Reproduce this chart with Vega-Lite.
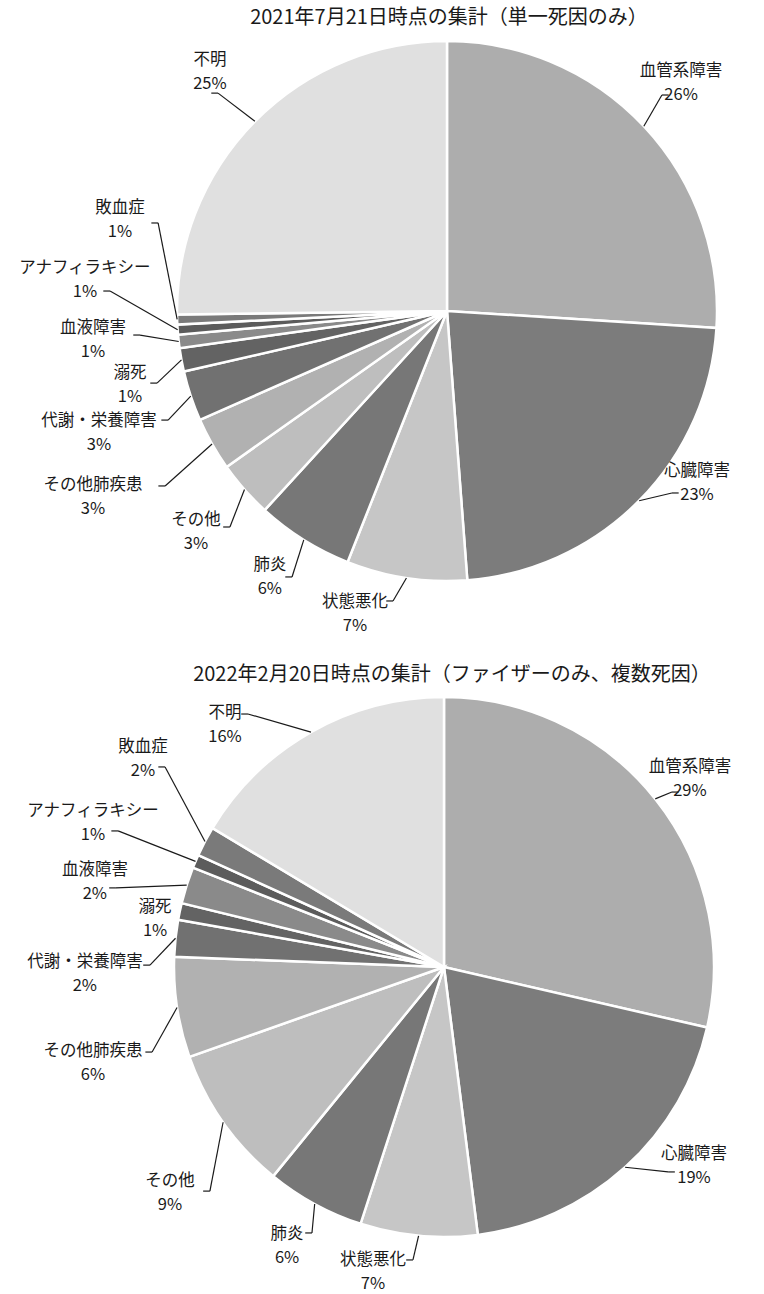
{
  "$schema": "https://vega.github.io/schema/vega-lite/v6.json",
  "background": "white",
  "padding": 0,
  "spacing": 0,
  "config": {
    "view": {"stroke": null},
    "font": "Noto Sans CJK JP",
    "title": {"font": "Noto Sans CJK JP", "fontSize": 20, "fontWeight": "normal", "color": "#1a1a1a"}
  },
  "datasets": {
    "slices": [
      {"chart": "2021-07-21", "order": 1, "cause": "血管系障害", "pct": 26.0, "lx": 0.867, "ly": 0.844, "kx": 0.796, "ky": 0.800},
      {"chart": "2021-07-21", "order": 2, "cause": "心臓障害", "pct": 22.8, "lx": 0.926, "ly": -0.637, "kx": 0.833, "ky": -0.674},
      {"chart": "2021-07-21", "order": 3, "cause": "状態悪化", "pct": 7.2, "lx": -0.341, "ly": -1.122, "kx": -0.200, "ky": -1.074},
      {"chart": "2021-07-21", "order": 4, "cause": "肺炎", "pct": 5.8, "lx": -0.656, "ly": -0.985, "kx": -0.574, "ky": -0.985},
      {"chart": "2021-07-21", "order": 5, "cause": "その他", "pct": 3.4, "lx": -0.930, "ly": -0.819, "kx": -0.804, "ky": -0.800},
      {"chart": "2021-07-21", "order": 6, "cause": "その他肺疾患", "pct": 3.2, "lx": -1.311, "ly": -0.689, "kx": -1.044, "ky": -0.648},
      {"chart": "2021-07-21", "order": 7, "cause": "代謝・栄養障害", "pct": 3.0, "lx": -1.289, "ly": -0.452, "kx": -1.033, "ky": -0.404},
      {"chart": "2021-07-21", "order": 8, "cause": "溺死", "pct": 1.4, "lx": -1.174, "ly": -0.274, "kx": -1.074, "ky": -0.267},
      {"chart": "2021-07-21", "order": 9, "cause": "血液障害", "pct": 0.8, "lx": -1.311, "ly": -0.107, "kx": -1.137, "ky": -0.089},
      {"chart": "2021-07-21", "order": 10, "cause": "アナフィラキシー", "pct": 0.6, "lx": -1.341, "ly": 0.115, "kx": -1.248, "ky": 0.074},
      {"chart": "2021-07-21", "order": 11, "cause": "敗血症", "pct": 0.6, "lx": -1.211, "ly": 0.337, "kx": -1.070, "ky": 0.326},
      {"chart": "2021-07-21", "order": 12, "cause": "不明", "pct": 25.2, "lx": -0.878, "ly": 0.885, "kx": -0.848, "ky": 0.807},
      {"chart": "2022-02-20", "order": 1, "cause": "血管系障害", "pct": 28.6, "lx": 0.911, "ly": 0.696, "kx": 0.844, "ky": 0.648},
      {"chart": "2022-02-20", "order": 2, "cause": "心臓障害", "pct": 19.4, "lx": 0.926, "ly": -0.737, "kx": 0.830, "ky": -0.759},
      {"chart": "2022-02-20", "order": 3, "cause": "状態悪化", "pct": 7.0, "lx": -0.263, "ly": -1.130, "kx": -0.115, "ky": -1.085},
      {"chart": "2022-02-20", "order": 4, "cause": "肺炎", "pct": 5.9, "lx": -0.581, "ly": -1.033, "kx": -0.489, "ky": -0.985},
      {"chart": "2022-02-20", "order": 5, "cause": "その他", "pct": 8.7, "lx": -1.015, "ly": -0.837, "kx": -0.867, "ky": -0.830},
      {"chart": "2022-02-20", "order": 6, "cause": "その他肺疾患", "pct": 6.0, "lx": -1.300, "ly": -0.356, "kx": -1.081, "ky": -0.315},
      {"chart": "2022-02-20", "order": 7, "cause": "代謝・栄養障害", "pct": 2.2, "lx": -1.330, "ly": -0.026, "kx": -1.089, "ky": 0.007},
      {"chart": "2022-02-20", "order": 8, "cause": "溺死", "pct": 1.0, "lx": -1.070, "ly": 0.178, "kx": null, "ky": null},
      {"chart": "2022-02-20", "order": 9, "cause": "血液障害", "pct": 2.2, "lx": -1.293, "ly": 0.315, "kx": -1.215, "ky": 0.293},
      {"chart": "2022-02-20", "order": 10, "cause": "アナフィラキシー", "pct": 0.8, "lx": -1.300, "ly": 0.533, "kx": -1.207, "ky": 0.504},
      {"chart": "2022-02-20", "order": 11, "cause": "敗血症", "pct": 1.8, "lx": -1.115, "ly": 0.770, "kx": -1.033, "ky": 0.741},
      {"chart": "2022-02-20", "order": 12, "cause": "不明", "pct": 16.4, "lx": -0.811, "ly": 0.896, "kx": -0.726, "ky": 0.937}
    ]
  },
  "vconcat": [
    {
      "width": 764,
      "height": 656,
      "title": {"text": "2021年7月21日時点の集計（単一死因のみ）", "offset": -28, "dx": 67},
      "data": {"name": "slices"},
      "transform": [
        {"filter": "datum.chart == '2021-07-21'"},
        {"stack": "pct", "groupby": ["chart"], "sort": [{"field": "order", "order": "ascending"}], "as": ["s0", "s1"]},
        {"calculate": "PI * (datum.s0 + datum.s1) / 100", "as": "mid"},
        {"calculate": "sin(datum.mid)", "as": "sx"},
        {"calculate": "cos(datum.mid)", "as": "sy"},
        {"calculate": "datum.kx + (datum.lx < datum.kx ? -0.025 : 0.025)", "as": "hx"},
        {"calculate": "format(datum.pct, '.0f') + '%'", "as": "pct_label"}
      ],
      "layer": [
        {
          "mark": {"type": "arc", "outerRadius": 270, "stroke": "white", "strokeWidth": 2.5},
          "encoding": {
            "theta": {"field": "s0", "type": "quantitative", "scale": {"domain": [0, 100]}},
            "theta2": {"field": "s1"},
            "color": {
              "field": "cause", "type": "nominal", "legend": null,
              "scale": {
                "domain": ["血管系障害", "心臓障害", "状態悪化", "肺炎", "その他", "その他肺疾患", "代謝・栄養障害", "溺死", "血液障害", "アナフィラキシー", "敗血症", "不明"],
                "range": ["#adadad", "#7c7c7c", "#c6c6c6", "#777777", "#bebebe", "#b1b1b1", "#717171", "#636363", "#8a8a8a", "#5c5c5c", "#7a7a7a", "#e0e0e0"]
              }
            },
            "x": {"datum": 0, "type": "quantitative", "scale": {"domain": [-1.6556, 1.1741], "nice": false, "zero": false}, "axis": null},
            "y": {"datum": 0, "type": "quantitative", "scale": {"domain": [-1.2778, 1.1519], "nice": false, "zero": false}, "axis": null}
          }
        },
        {
          "transform": [{"filter": "isValid(datum.kx)"}],
          "mark": {"type": "rule", "stroke": "#1a1a1a", "strokeWidth": 1.2},
          "encoding": {
            "x": {"field": "sx", "type": "quantitative", "scale": {"domain": [-1.6556, 1.1741], "nice": false, "zero": false}, "axis": null},
            "y": {"field": "sy", "type": "quantitative", "scale": {"domain": [-1.2778, 1.1519], "nice": false, "zero": false}, "axis": null},
            "x2": {"field": "kx"},
            "y2": {"field": "ky"}
          }
        },
        {
          "transform": [{"filter": "isValid(datum.kx)"}],
          "mark": {"type": "rule", "stroke": "#1a1a1a", "strokeWidth": 1.2},
          "encoding": {
            "x": {"field": "kx", "type": "quantitative", "scale": {"domain": [-1.6556, 1.1741], "nice": false, "zero": false}, "axis": null},
            "y": {"field": "ky", "type": "quantitative", "scale": {"domain": [-1.2778, 1.1519], "nice": false, "zero": false}, "axis": null},
            "x2": {"field": "hx"},
            "y2": {"field": "ky"}
          }
        },
        {
          "mark": {"type": "text", "align": "center", "baseline": "middle", "dy": -12, "fontSize": 16.5, "color": "#1a1a1a", "font": "Noto Sans CJK JP"},
          "encoding": {
            "x": {"field": "lx", "type": "quantitative", "scale": {"domain": [-1.6556, 1.1741], "nice": false, "zero": false}, "axis": null},
            "y": {"field": "ly", "type": "quantitative", "scale": {"domain": [-1.2778, 1.1519], "nice": false, "zero": false}, "axis": null},
            "text": {"field": "cause", "type": "nominal"}
          }
        },
        {
          "mark": {"type": "text", "align": "center", "baseline": "middle", "dy": 12, "fontSize": 16.5, "color": "#1a1a1a", "font": "Noto Sans CJK JP"},
          "encoding": {
            "x": {"field": "lx", "type": "quantitative", "scale": {"domain": [-1.6556, 1.1741], "nice": false, "zero": false}, "axis": null},
            "y": {"field": "ly", "type": "quantitative", "scale": {"domain": [-1.2778, 1.1519], "nice": false, "zero": false}, "axis": null},
            "text": {"field": "pct_label", "type": "nominal"}
          }
        }
      ]
    },
    {
      "width": 764,
      "height": 638,
      "title": {"text": "2022年2月20日時点の集計（ファイザーのみ、複数死因）", "offset": -29, "dx": 70},
      "data": {"name": "slices"},
      "transform": [
        {"filter": "datum.chart == '2022-02-20'"},
        {"stack": "pct", "groupby": ["chart"], "sort": [{"field": "order", "order": "ascending"}], "as": ["s0", "s1"]},
        {"calculate": "PI * (datum.s0 + datum.s1) / 100", "as": "mid"},
        {"calculate": "sin(datum.mid)", "as": "sx"},
        {"calculate": "cos(datum.mid)", "as": "sy"},
        {"calculate": "datum.kx + (datum.lx < datum.kx ? -0.025 : 0.025)", "as": "hx"},
        {"calculate": "format(datum.pct, '.0f') + '%'", "as": "pct_label"}
      ],
      "layer": [
        {
          "mark": {"type": "arc", "outerRadius": 270, "stroke": "white", "strokeWidth": 2.5},
          "encoding": {
            "theta": {"field": "s0", "type": "quantitative", "scale": {"domain": [0, 100]}},
            "theta2": {"field": "s1"},
            "color": {
              "field": "cause", "type": "nominal", "legend": null,
              "scale": {
                "domain": ["血管系障害", "心臓障害", "状態悪化", "肺炎", "その他", "その他肺疾患", "代謝・栄養障害", "溺死", "血液障害", "アナフィラキシー", "敗血症", "不明"],
                "range": ["#a9a9a9", "#7a7a7a", "#c2c2c2", "#777777", "#bababa", "#a6a6a6", "#6a6a6a", "#626262", "#878787", "#585858", "#777777", "#dbdbdb"]
              }
            },
            "x": {"datum": 0, "type": "quantitative", "scale": {"domain": [-1.6444, 1.1852], "nice": false, "zero": false}, "axis": null},
            "y": {"datum": 0, "type": "quantitative", "scale": {"domain": [-1.2111, 1.1519], "nice": false, "zero": false}, "axis": null}
          }
        },
        {
          "transform": [{"filter": "isValid(datum.kx)"}],
          "mark": {"type": "rule", "stroke": "#1a1a1a", "strokeWidth": 1.2},
          "encoding": {
            "x": {"field": "sx", "type": "quantitative", "scale": {"domain": [-1.6444, 1.1852], "nice": false, "zero": false}, "axis": null},
            "y": {"field": "sy", "type": "quantitative", "scale": {"domain": [-1.2111, 1.1519], "nice": false, "zero": false}, "axis": null},
            "x2": {"field": "kx"},
            "y2": {"field": "ky"}
          }
        },
        {
          "transform": [{"filter": "isValid(datum.kx)"}],
          "mark": {"type": "rule", "stroke": "#1a1a1a", "strokeWidth": 1.2},
          "encoding": {
            "x": {"field": "kx", "type": "quantitative", "scale": {"domain": [-1.6444, 1.1852], "nice": false, "zero": false}, "axis": null},
            "y": {"field": "ky", "type": "quantitative", "scale": {"domain": [-1.2111, 1.1519], "nice": false, "zero": false}, "axis": null},
            "x2": {"field": "hx"},
            "y2": {"field": "ky"}
          }
        },
        {
          "mark": {"type": "text", "align": "center", "baseline": "middle", "dy": -12, "fontSize": 16.5, "color": "#1a1a1a", "font": "Noto Sans CJK JP"},
          "encoding": {
            "x": {"field": "lx", "type": "quantitative", "scale": {"domain": [-1.6444, 1.1852], "nice": false, "zero": false}, "axis": null},
            "y": {"field": "ly", "type": "quantitative", "scale": {"domain": [-1.2111, 1.1519], "nice": false, "zero": false}, "axis": null},
            "text": {"field": "cause", "type": "nominal"}
          }
        },
        {
          "mark": {"type": "text", "align": "center", "baseline": "middle", "dy": 12, "fontSize": 16.5, "color": "#1a1a1a", "font": "Noto Sans CJK JP"},
          "encoding": {
            "x": {"field": "lx", "type": "quantitative", "scale": {"domain": [-1.6444, 1.1852], "nice": false, "zero": false}, "axis": null},
            "y": {"field": "ly", "type": "quantitative", "scale": {"domain": [-1.2111, 1.1519], "nice": false, "zero": false}, "axis": null},
            "text": {"field": "pct_label", "type": "nominal"}
          }
        }
      ]
    }
  ]
}
